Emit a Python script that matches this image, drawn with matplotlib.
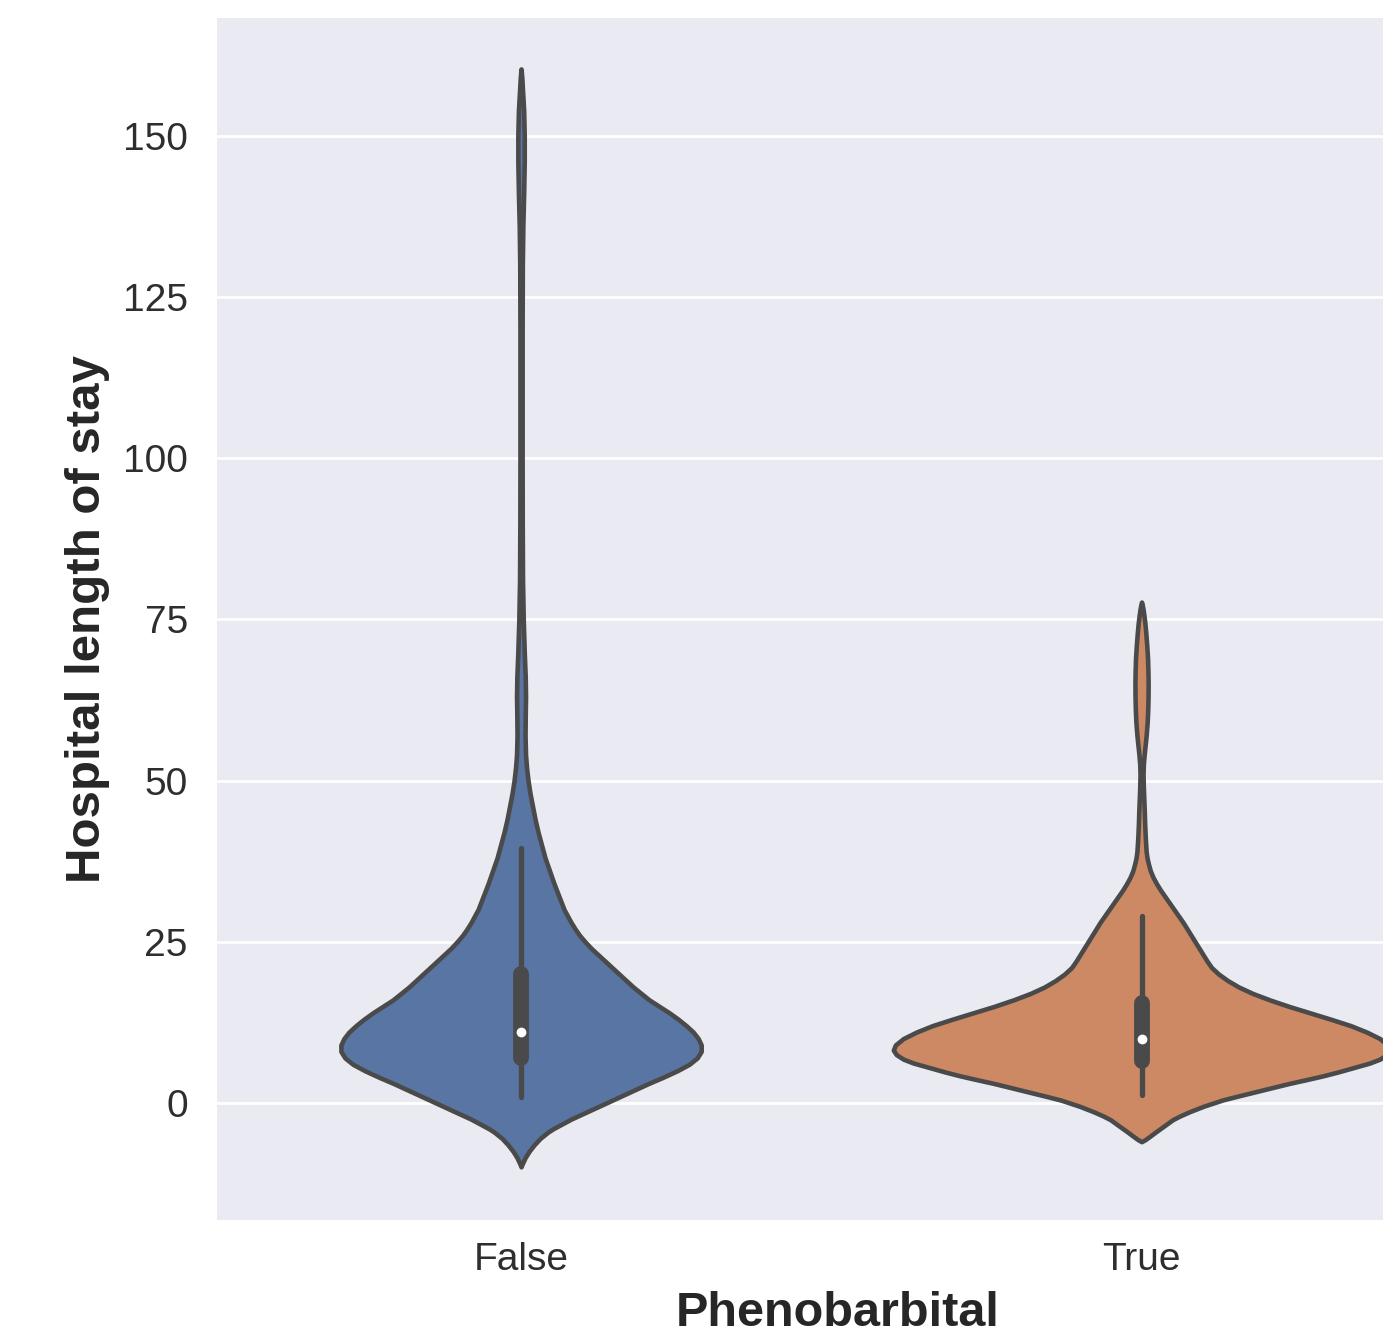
import matplotlib
matplotlib.use("Agg")
import matplotlib.pyplot as plt

# ---------------- data ----------------
categories = ["False", "True"]
x_label = "Phenobarbital"
y_label = "Hospital length of stay"
y_ticks = [0, 25, 50, 75, 100, 125, 150]

# KDE outline of each group: value grid and relative density (arbitrary units)
false_coords = [-9.9, -9.5, -9.0, -8.5, -8.0, -7.5, -7.0, -6.5, -6.0, -5.5,
                -5.0, -4.5, -4.0, -3.5, -3.0, -2.5, -2.0, -1.5, -1.0, -0.5,
                0.0, 1.0, 2.0, 3.0, 4.0, 5.0, 6.0, 7.0, 8.0, 9.0,
                10.0, 11.0, 12.0, 13.0, 14.0, 15.0, 16.0, 17.0, 18.0, 19.0,
                20.0, 21.0, 22.0, 23.0, 24.0, 25.0, 26.0, 27.0, 28.0, 29.0,
                30.0, 32.0, 34.0, 36.0, 38.0, 40.0, 42.0, 44.0, 46.0, 48.0,
                50.0, 52.0, 54.0, 57.0, 60.0, 63.0, 66.0, 70.0, 75.0, 81.0,
                90.0, 100.0, 110.0, 120.0, 130.0, 136.0, 141.0, 146.0, 150.0, 154.0,
                157.0, 159.0, 160.4]
false_density = [0, 1, 2.5, 4, 6, 8, 10.5, 13, 16, 19,
                 23, 27, 32, 38, 44, 50, 57, 64, 71, 78,
                 85, 99, 113, 127, 142, 156, 168, 176, 180, 180,
                 177, 172, 165, 157, 148, 138, 128, 120, 112, 105,
                 98, 91, 84, 77, 70, 64, 58.5, 54, 50, 46.5,
                 43, 38, 33, 28.5, 24, 20.5, 17, 14, 11.5, 9,
                 7, 5.5, 4.5, 4, 4.2, 4.5, 4.2, 3.2, 2.2, 1.5,
                 1.2, 1.1, 1.1, 1.1, 1.3, 1.8, 2.6, 3.2, 3.2, 2.6,
                 1.5, 0.8, 0]

true_coords = [-6.0, -5.7, -5.2, -4.5, -3.5, -2.6, -2.0, -1.35, -0.5, 0.47,
               1.1, 1.75, 2.4, 3.05, 3.6, 4.2, 4.8, 5.5, 6.2, 6.8,
               7.5, 8.2, 9.0, 10.0, 11.0, 12.0, 13.0, 14.0, 15.0, 16.0,
               17.0, 18.0, 19.0, 20.0, 21.0, 22.0, 23.0, 24.0, 25.0, 26.0,
               27.0, 28.0, 29.0, 30.0, 31.0, 32.0, 33.0, 34.0, 35.0, 36.0,
               37.0, 38.0, 39.0, 41.0, 43.0, 45.0, 47.0, 49.0, 51.0, 52.5,
               54.0, 55.5, 57.0, 59.0, 61.0, 63.0, 65.0, 67.0, 69.0, 71.0,
               73.0, 74.5, 75.5, 76.5, 77.2, 77.7]
true_density = [0, 3.5, 8, 14, 23, 31, 38.5, 48, 62, 81,
                97, 114, 131, 148, 164, 181, 196, 212, 228, 238,
                245, 248, 246, 238, 225, 209, 189, 168, 147, 128,
                111, 97, 86, 77, 70, 65.5, 61.5, 57.5, 53.5, 49.5,
                45.5, 41.5, 37, 32.5, 28, 23.5, 19, 15, 11.5, 8.8,
                7, 5.5, 4.6, 3.8, 3.2, 2.8, 2.3, 1.8, 1.5, 1.8,
                2.6, 3.6, 4.6, 5.6, 6.2, 6.5, 6.6, 6.4, 6.0, 5.2,
                4.2, 3.3, 2.5, 1.6, 0.8, 0]

# inner box: whisker low, q1, median, q3, whisker high
false_box = [1, 7, 11, 20, 39.5]
true_box = [1.2, 6.5, 10, 15.5, 29]

# ---------------- styling ----------------
colors = ["#5875A4", "#CC8963"]
gray = "#4A4A4A"
text_color = "#262626"
bg = "#EAEAF2"

W, H = 1383, 1340
fig = plt.figure(figsize=(W / 100, H / 100), dpi=100, facecolor="white")
ax = fig.add_axes([217 / W, 1 - 1220 / H, 1241 / W, (1220 - 18) / H])
ax.set_facecolor(bg)
ax.set_axisbelow(True)
for s in ax.spines.values():
    s.set_visible(False)

coords_list = [false_coords, true_coords]
dens_list = [false_density, true_density]
boxes = [false_box, true_box]

gmax = max(max(d) for d in dens_list)
widths = [0.8 * max(d) / gmax for d in dens_list]

vpstats = []
for c, d, b in zip(coords_list, dens_list, boxes):
    vpstats.append({"coords": c, "vals": d, "mean": b[2], "median": b[2],
                    "min": c[0], "max": c[-1]})

positions = list(range(len(categories)))
parts = ax.violin(vpstats, positions=positions, widths=widths,
                  showmeans=False, showextrema=False, showmedians=False)
for body, col in zip(parts["bodies"], colors):
    body.set_facecolor(col)
    body.set_edgecolor(gray)
    body.set_linewidth(3.3)
    body.set_alpha(1)
    body.set_joinstyle("round")
    body.set_zorder(2)

for pos, b in zip(positions, boxes):
    ax.plot([pos, pos], [b[0], b[4]], color=gray, lw=3.8,
            solid_capstyle="round", zorder=3)
    ax.plot([pos, pos], [b[1], b[3]], color=gray, lw=11.4,
            solid_capstyle="round", zorder=3)
    ax.scatter([pos], [b[2]], s=65, color="white", edgecolor=gray,
               linewidth=1.0, zorder=4)

ax.set_xlim(-0.49, 1.51)
ax.set_ylim(-18.15, 168.3)
ax.set_xticks(positions)
ax.set_xticklabels(categories)
ax.set_yticks(y_ticks)
ax.yaxis.grid(True, color="white", lw=2.0)
ax.xaxis.grid(False)
ax.tick_params(axis="both", length=0, labelcolor="#2e2e2e")
ax.tick_params(axis="y", pad=21)
ax.tick_params(axis="x", pad=16)
tick_family = ["Liberation Sans", "DejaVu Sans"]
for lab in ax.get_xticklabels() + ax.get_yticklabels():
    lab.set_fontfamily(tick_family)
    lab.set_fontsize(28)

ax.set_xlabel(x_label, fontsize=35, fontweight="bold", color=text_color,
              family=["Liberation Sans", "DejaVu Sans"], labelpad=9)
ax.set_ylabel(y_label, fontsize=35.5, fontweight="bold", color=text_color,
              family=["Liberation Sans", "DejaVu Sans"], labelpad=9)

fig.savefig("out.png", dpi=100, facecolor="white")
